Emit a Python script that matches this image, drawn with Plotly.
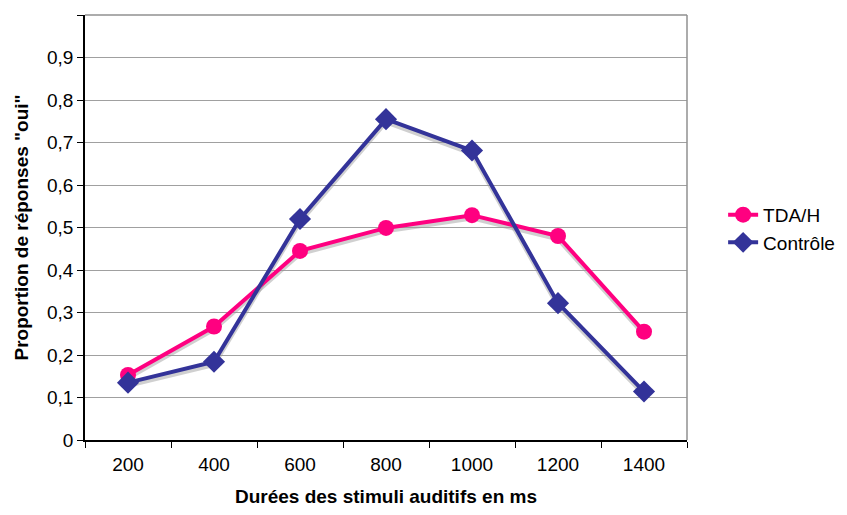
import plotly.graph_objects as go

durees = ["200", "400", "600", "800", "1000", "1200", "1400"]
tdah = [0.153, 0.267, 0.445, 0.499, 0.529, 0.480, 0.255]
controle = [0.135, 0.184, 0.520, 0.755, 0.681, 0.322, 0.114]

fig = go.Figure()

# light shadow under each line (Excel style)
for vals in (tdah, controle):
    fig.add_trace(go.Scatter(
        x=durees, y=[v - 0.007 for v in vals],
        mode="lines", line=dict(color="rgba(150,150,150,0.45)", width=4.5),
        showlegend=False, hoverinfo="skip"
    ))

fig.add_trace(go.Scatter(
    x=durees, y=tdah, name="TDA/H", mode="lines+markers",
    line=dict(color="#FF0080", width=4),
    marker=dict(symbol="circle", size=16, color="#FF0080")
))
fig.add_trace(go.Scatter(
    x=durees, y=controle, name="Contrôle", mode="lines+markers",
    line=dict(color="#333399", width=4),
    marker=dict(symbol="diamond", size=17, color="#333399")
))

fig.update_layout(
    width=847, height=515,
    margin=dict(l=77, r=168, t=7, b=83),
    paper_bgcolor="white", plot_bgcolor="white",
    separators=", ",
    font=dict(family="Arial, Liberation Sans", size=19, color="black"),
    legend=dict(x=1.06, y=0.497, xanchor="left", yanchor="middle",
                font=dict(size=19), tracegroupgap=0),
    xaxis=dict(
        type="category", tickson="boundaries", ticks="outside", ticklen=6,
        tickcolor="black", showline=True, linecolor="black", linewidth=1.5,
        mirror=False, showgrid=False, range=[-0.5, 6.5], automargin=False,
        ticklabelstandoff=6,
        title=dict(text="<b>Durées des stimuli auditifs en ms</b>", font=dict(size=19), standoff=16),
    ),
    yaxis=dict(
        range=[0, 1], dtick=0.1, ticks="outside", ticklen=6, tickcolor="black",
        showline=True, linecolor="black", linewidth=1.5, automargin=False,
        showgrid=True, gridcolor="#A0A0A0", gridwidth=1.2, zeroline=False,
        title=dict(text="<b>Proportion de réponses \"oui\"</b>", font=dict(size=19), standoff=13),
    ),
)

# grey frame on top and right of plot area
fig.add_shape(type="line", xref="paper", yref="paper", x0=0, x1=1, y0=1, y1=1,
              line=dict(color="#909090", width=1.5))
fig.add_shape(type="line", xref="paper", yref="paper", x0=1, x1=1, y0=0, y1=1,
              line=dict(color="#909090", width=1.5))

fig.write_html("out.html")
